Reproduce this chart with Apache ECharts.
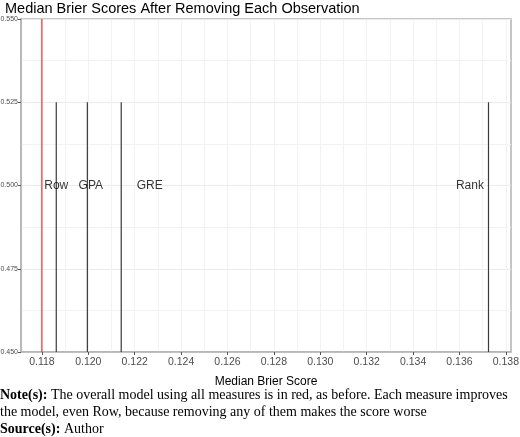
<!DOCTYPE html>
<html>
<head>
<meta charset="utf-8">
<script src="https://cdn.jsdelivr.net/npm/echarts@6/dist/echarts.min.js"></script>
<style>
  html, body { margin: 0; padding: 0; background: #fff; }
  #chart { width: 520px; height: 437px; }
</style>
</head>
<body>
<div id="chart"></div>
<script>
// values
var measures = ['Row', 'GPA', 'GRE', 'Rank'];
var medianScores = [0.11862, 0.11996, 0.12142, 0.13725];
var labelPositions = [0.11862, 0.12011, 0.12265, 0.13645];
var overallScore = 0.1180;
var xTicks = [0.118, 0.120, 0.122, 0.124, 0.126, 0.128, 0.130, 0.132, 0.134, 0.136, 0.138];
var xMinorTicks = [0.118, 0.119, 0.120, 0.121, 0.122, 0.123, 0.124, 0.125, 0.126, 0.127, 0.128, 0.129, 0.130, 0.131, 0.132, 0.133, 0.134, 0.135, 0.136, 0.137, 0.138];

var myChart = echarts.init(document.getElementById('chart'));

var series = [];
// the overall model, full height in red
series.push({
    type: 'line',
    data: [[overallScore, 0.45], [overallScore, 0.55]],
    symbol: 'none',
    lineStyle: {color: '#ff0000', width: 1},
    z: 5
});
// one segment per removed measure
medianScores.forEach(function (v, i) {
    series.push({
        name: measures[i],
        type: 'line',
        data: [[v, 0.45], [v, 0.525]],
        symbol: 'none',
        lineStyle: {color: '#3a3a3a', width: 1.2},
        z: 4
    });
});
// labels
series.push({
    type: 'scatter',
    symbolSize: 0,
    data: measures.map(function (m, i) { return {value: [labelPositions[i], 0.5], name: m}; }),
    label: {
        show: true,
        position: 'inside',
        formatter: '{b}',
        color: '#000',
        fontSize: 12,
        fontFamily: 'Liberation Sans'
    },
    z: 6
});

var option = {
    animation: false,
    title: {
        text: 'Median Brier Scores After Removing Each Observation',
        left: 5,
        top: 1.5,
        padding: 0,
        textStyle: {fontSize: 14.5, fontWeight: 'normal', color: '#000', fontFamily: 'Liberation Sans'}
    },
    grid: {
        left: 21, right: 9, top: 19, bottom: 85,
        outerBoundsMode: 'none',
        containLabel: false,
        show: true,
        borderColor: '#b3b3b3',
        borderWidth: 1.5
    },
    xAxis: [
        {
            type: 'value',
            min: 0.1171,
            max: 0.13822,
            name: 'Median Brier Score',
            nameLocation: 'middle',
            nameGap: 24,
            nameTextStyle: {fontSize: 12, color: '#000', fontFamily: 'Liberation Sans'},
            axisLine: {show: true, lineStyle: {color: '#b3b3b3', width: 1.5}},
            axisTick: {show: true, length: 3, customValues: xTicks, lineStyle: {color: '#555'}},
            axisLabel: {customValues: xTicks, fontSize: 10.5, color: '#4d4d4d', fontFamily: 'Liberation Sans', margin: 5,
                formatter: function (v) { return v.toFixed(3); }},
            splitLine: {show: true, lineStyle: {color: '#ebebeb', width: 1}}
        },
        {
            type: 'value',
            min: 0.1171,
            max: 0.13822,
            position: 'bottom',
            axisLine: {show: false},
            axisTick: {show: false, customValues: xMinorTicks},
            axisLabel: {show: false, customValues: xMinorTicks},
            splitLine: {show: true, lineStyle: {color: '#f2f2f2', width: 1}}
        }
    ],
    yAxis: {
        type: 'value',
        min: 0.45,
        max: 0.55,
        interval: 0.025,
        axisLine: {show: true, lineStyle: {color: '#b3b3b3', width: 1.5}},
        axisTick: {show: true, length: 3, lineStyle: {color: '#555'}},
        axisLabel: {fontSize: 7, color: '#4d4d4d', fontFamily: 'Liberation Sans', margin: 3,
            formatter: function (v) { return v.toFixed(3); }},
        splitLine: {show: true, lineStyle: {color: '#ebebeb', width: 1}},
        minorTick: {show: false, splitNumber: 2},
        minorSplitLine: {show: true, lineStyle: {color: '#f2f2f2', width: 1}}
    },
    graphic: [
        {
            type: 'text',
            left: 0,
            top: 387,
            style: {
                text: '{b|Note(s):} The overall model using all measures is in red, as before. Each measure improves\nthe model, even Row, because removing any of them makes the score worse\n{b|Source(s):} Author',
                font: '14px "Liberation Serif"',
                fill: '#000',
                lineHeight: 17,
                rich: {
                    b: {fontWeight: 'bold', fontFamily: 'Liberation Serif', fontSize: 14, lineHeight: 17}
                }
            }
        }
    ],
    series: series
};

myChart.setOption(option);
</script>
</body>
</html>
